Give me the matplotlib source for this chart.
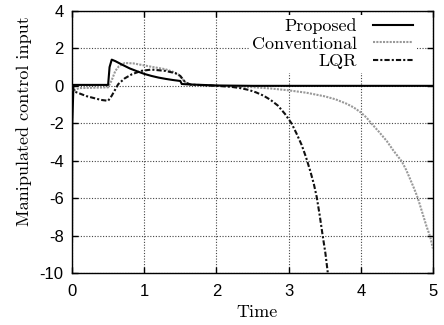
import matplotlib
matplotlib.use("Agg")
import matplotlib.pyplot as plt
import numpy as np

plt.rcParams['axes.unicode_minus'] = False

# Proposed
t_prop = [0, 0.004, 0.02, 0.5, 0.52, 0.55, 0.6, 0.7, 0.8, 0.9, 1.0, 1.1, 1.2, 1.3,
          1.4, 1.5, 1.52, 1.6, 1.8, 2.0, 2.5, 5.0]
u_prop = [-8.3, -2.0, 0.05, 0.05, 1.0, 1.4, 1.32, 1.12, 0.93, 0.78, 0.64, 0.53, 0.44,
          0.37, 0.31, 0.26, 0.1, 0.08, 0.05, 0.02, 0.0, 0.0]

# Conventional
t_conv = [0, 0.02, 0.05, 0.1, 0.3, 0.5, 0.55, 0.6, 0.65, 0.73, 0.85, 0.96, 1.1, 1.29,
          1.4, 1.47, 1.52, 1.58, 1.65, 1.8, 2.0, 2.25, 2.5, 2.75, 3.0, 3.25, 3.5, 3.65,
          3.8, 3.9, 4.0, 4.08, 4.15, 4.25, 4.36, 4.45, 4.57, 4.63, 4.68, 4.74, 4.79,
          4.85, 4.91, 4.96, 5.0]
u_conv = [0, -0.3, -0.2, -0.12, -0.1, -0.08, 0.3, 0.8, 1.05, 1.22, 1.2, 1.12, 1.02, 0.89,
          0.75, 0.62, 0.4, 0.15, 0.05, 0.03, 0.0, -0.03, -0.07, -0.14, -0.24, -0.37, -0.56,
          -0.72, -0.95, -1.15, -1.42, -1.7, -2.02, -2.45, -2.95, -3.45, -4.05, -4.5, -4.95,
          -5.5, -6.0, -6.75, -7.5, -8.05, -8.7]

# LQR
t_lqr = [0, 0.03, 0.1, 0.2, 0.3, 0.4, 0.5, 0.55, 0.64, 0.73, 0.83, 0.96, 1.1, 1.29,
         1.43, 1.5, 1.57, 1.65, 1.8, 2.0, 2.2, 2.33, 2.45, 2.55, 2.65, 2.75, 2.85, 2.95,
         3.04, 3.11, 3.18, 3.24, 3.3, 3.35, 3.39, 3.43, 3.47, 3.51, 3.54, 3.56]
u_lqr = [0, -0.3, -0.4, -0.55, -0.65, -0.75, -0.8, -0.53, 0.09, 0.4, 0.62, 0.8, 0.87,
         0.8, 0.68, 0.53, 0.18, 0.06, 0.04, 0.0, -0.05, -0.12, -0.22, -0.35, -0.52, -0.75,
         -1.05, -1.5, -2.0, -2.55, -3.15, -3.8, -4.55, -5.25, -5.95, -6.9, -7.95, -8.95,
         -9.9, -10.5]

xticks = [0, 1, 2, 3, 4, 5]
yticks = [4, 2, 0, -2, -4, -6, -8, -10]

fig = plt.figure(figsize=(4.44, 3.25), dpi=100)
ax = fig.add_axes([0.1622, 0.16, 0.9752 - 0.1622, 0.9662 - 0.16])

ax.plot(t_prop, u_prop, color='black', lw=1.5, label='Proposed', zorder=5)
ax.plot(t_conv, u_conv, color='#999999', lw=1.5, ls=(0, (1, 0.6)), label='Conventional', zorder=4)
ax.plot(t_lqr, u_lqr, color='#111111', lw=1.5, ls=(0, (2.5, 1, 1, 1)), label='LQR', zorder=4)

ax.set_xlim(0, 5)
ax.set_ylim(-10, 4)
ax.set_xticks(xticks)
ax.set_yticks(yticks)
ax.set_xticklabels([str(v) for v in xticks])
ax.set_yticklabels([str(v) for v in yticks])
ax.grid(True, color='#444444', lw=0.8, ls=(0, (1, 1.5)))
ax.tick_params(direction='in', length=4, width=1, top=True, right=True,
               labelsize=12, pad=6)
ax.tick_params(axis='x', pad=8)
for lab in ax.get_xticklabels() + ax.get_yticklabels():
    lab.set_fontfamily('Liberation Sans')
for s in ax.spines.values():
    s.set_linewidth(1.0)

ax.set_xlabel('Time', fontfamily='cmr10', fontsize=13)
ax.set_ylabel('Manipulated control input', fontfamily='cmr10', fontsize=13)
ax.xaxis.set_label_coords(0.5125, -0.12)
ax.yaxis.set_label_coords(-0.111, 0.58)

leg = ax.legend(loc='upper right', bbox_to_anchor=(0.955, 0.985), markerfirst=False,
                frameon=True, fancybox=False, edgecolor='none', facecolor='white',
                framealpha=1, prop={'family': 'cmr10', 'size': 13},
                handlelength=2.2, handletextpad=0.9, labelspacing=0.1,
                borderpad=0.2, borderaxespad=0)
for txt in leg.get_texts():
    txt.set_ha('right')
leg.set_zorder(10)

fig.savefig('out.png', dpi=100)
